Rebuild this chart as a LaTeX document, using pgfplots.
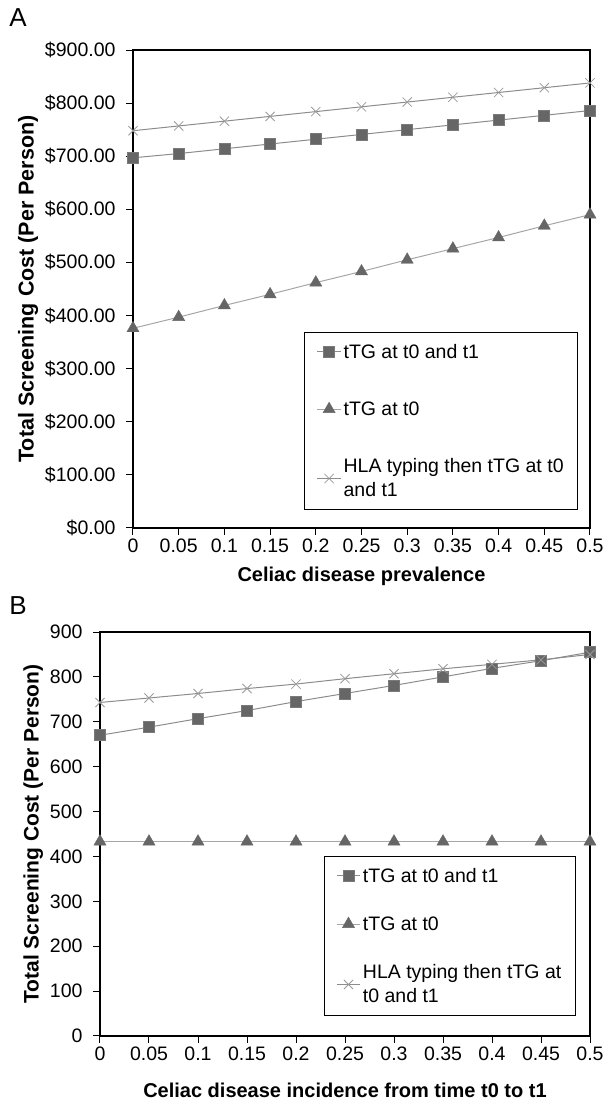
\documentclass[border=0pt]{standalone}
\usepackage{pgfplots}
\pgfplotsset{compat=1.18}
\usepackage{fontspec}
\setmainfont{Liberation Sans}
\definecolor{mk}{HTML}{666666}
\definecolor{mkd}{HTML}{7A7A7A}
\definecolor{ln}{HTML}{8C8C8C}
\definecolor{lnt}{HTML}{A6A6A6}
\definecolor{xm}{HTML}{9A9A9A}
\pgfplotsset{
  panel/.style={
    scale only axis,
    font=\fontsize{19.5}{23}\selectfont,
    xmin=0, xmax=0.5, ymin=0, ymax=900,
    xtick={0,0.05,0.1,0.15,0.2,0.25,0.3,0.35,0.4,0.45,0.5},
    xticklabels={0,0.05,0.1,0.15,0.2,0.25,0.3,0.35,0.4,0.45,0.5},
    ytick={0,100,200,300,400,500,600,700,800,900},
    yticklabel style={xshift=-7pt},
    axis line style={line width=1.4pt, black},
    tick style={black, line width=1pt},
    tick align=outside, tick pos=left,
    major tick length=7pt,
    xlabel style={font=\bfseries\fontsize{20}{23}\selectfont},
    ylabel style={font=\bfseries\fontsize{21.5}{24}\selectfont},
    legend cell align=left,
    legend image code/.code={%
      \draw[mark repeat=2,mark phase=2]
        plot coordinates {(0cm,0cm) (0.42cm,0cm) (0.84cm,0cm)};},
    legend style={draw=black, line width=1pt, font=\fontsize{19.5}{24}\selectfont,
      inner xsep=12pt, inner ysep=9pt,
      cells={anchor=west, align=left}},
    clip=false,
  },
  sq/.style={color=ln, line width=1pt, mark=square*, mark size=5.5pt,
    mark options={fill=mk, draw=mkd, line width=0.6pt}},
  tri/.style={color=lnt, line width=1pt, mark=triangle*, mark size=7pt,
    mark options={fill=mk, draw=mk, line width=0.4pt}},
  hla/.style={color=ln, line width=1pt, mark=x, mark size=6.5pt,
    mark options={draw=xm, line width=0.8pt}},
}
\begin{document}
\begin{tikzpicture}[x=1pt,y=1pt]
\useasboundingbox (0pt,0pt) rectangle (605pt,1103pt);
\node[font=\fontsize{26}{28}\selectfont] at (18pt,1085pt) {A};
\node[font=\fontsize{26}{28}\selectfont] at (18pt,497pt) {B};
\begin{axis}[panel,
  at={(133pt,575pt)}, anchor=south west, width=457pt, height=478pt,
  yticklabels={\$0.00,\$100.00,\$200.00,\$300.00,\$400.00,\$500.00,\$600.00,\$700.00,\$800.00,\$900.00},
  xlabel={Celiac disease prevalence},
  xlabel style={yshift=-8pt},
  ylabel={Total Screening Cost (Per Person)},
  legend style={at={(0.974,0.038)}, anchor=south east, row sep=38pt},
]
\addplot[sq] coordinates {(0,697) (0.05,705) (0.1,714) (0.15,723) (0.2,732) (0.25,741) (0.3,750) (0.35,759) (0.4,768) (0.45,777) (0.5,786)};
\addlegendentry{tTG at t0 and t1}
\addplot[tri] coordinates {(0,376) (0.05,397) (0.1,419) (0.15,440) (0.2,462) (0.25,483) (0.3,505) (0.35,526) (0.4,547) (0.45,569) (0.5,590)};
\addlegendentry{tTG at t0}
\addplot[hla] coordinates {(0,748) (0.05,757) (0.1,766) (0.15,775) (0.2,784) (0.25,793) (0.3,802) (0.35,811) (0.4,820) (0.45,829) (0.5,838)};
\addlegendentry{HLA typing then tTG at t0\\and t1}
\end{axis}
\begin{axis}[panel,
  at={(100pt,67pt)}, anchor=south west, width=490pt, height=404pt,
  yticklabels={0,100,200,300,400,500,600,700,800,900},
  xlabel={Celiac disease incidence from time t0 to t1},
  xlabel style={yshift=-16pt},
  ylabel={Total Screening Cost (Per Person)},
  ylabel style={font=\bfseries\fontsize{21}{24}\selectfont},
  legend style={at={(0.971,0.05)}, anchor=south east, row sep=29pt},
]
\addplot[sq] coordinates {(0,670) (0.05,688) (0.1,707) (0.15,725) (0.2,745) (0.25,763) (0.3,781) (0.35,800) (0.4,819) (0.45,836) (0.5,855)};
\addlegendentry{tTG at t0 and t1}
\addplot[tri] coordinates {(0,433) (0.05,433) (0.1,433) (0.15,433) (0.2,433) (0.25,433) (0.3,433) (0.35,433) (0.4,433) (0.45,433) (0.5,433)};
\addlegendentry{tTG at t0}
\addplot[hla] coordinates {(0,743) (0.05,753) (0.1,763) (0.15,774) (0.2,784) (0.25,796) (0.3,807) (0.35,818) (0.4,828) (0.45,838) (0.5,850)};
\addlegendentry{HLA typing then tTG at\\t0 and t1}
\end{axis}
\end{tikzpicture}
\end{document}
